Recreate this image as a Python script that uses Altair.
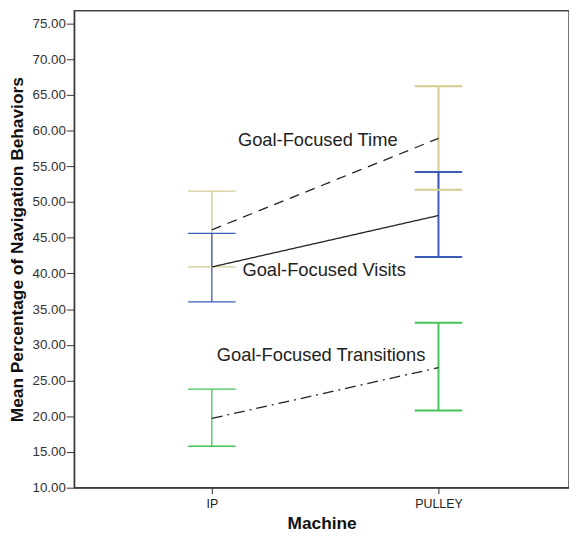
import altair as alt
import pandas as pd

machines = ["IP", "PULLEY"]
machine_pos = [0, 1]
series = ["Goal-Focused Time", "Goal-Focused Visits", "Goal-Focused Transitions"]
means = {
    "Goal-Focused Time": [46.1, 58.9],
    "Goal-Focused Visits": [40.9, 48.1],
    "Goal-Focused Transitions": [19.7, 26.8],
}
lows = {
    "Goal-Focused Time": [40.9, 51.7],
    "Goal-Focused Visits": [36.0, 42.3],
    "Goal-Focused Transitions": [15.8, 20.8],
}
highs = {
    "Goal-Focused Time": [51.5, 66.2],
    "Goal-Focused Visits": [45.6, 54.2],
    "Goal-Focused Transitions": [23.8, 33.1],
}
y_ticks = [10, 15, 20, 25, 30, 35, 40, 45, 50, 55, 60, 65, 70, 75]
label_x = [0.115, 0.135, 0.022]
label_y = [58.6, 40.4, 28.6]

rows = []
for s in series:
    for i, m in enumerate(machines):
        rows.append({"series": s, "machine": m, "x": machine_pos[i],
                     "mean": means[s][i], "lo": lows[s][i], "hi": highs[s][i]})
df = pd.DataFrame(rows)
labels = pd.DataFrame({"series": series, "x": label_x, "y": label_y})

FONT = "Liberation Sans"
col_domain = series
col_range = ["#D4CB8E", "#3D5CB8", "#45C354"]

xscale = alt.Scale(domain=[-0.607, 1.576], nice=False, zero=False)
yscale = alt.Scale(domain=[10, 76.76], nice=False, zero=False)

xaxis = alt.Axis(title="Machine", values=[0, 1],
                 labelExpr="datum.value == 0 ? 'IP' : 'PULLEY'",
                 grid=False, tickSize=6, tickColor="#333", domainColor="#333",
                 labelFont=FONT, labelFontSize=12.5, labelColor="#222", labelPadding=4,
                 titleFont=FONT, titleFontSize=17.5, titleFontWeight="bold",
                 titleColor="#111", titlePadding=5)
yaxis = alt.Axis(title="Mean Percentage of Navigation Behaviors",
                 values=y_ticks, format=".2f", labelOverlap=False, tickCount=14,
                 grid=False, tickSize=8, tickColor="#333", domainColor="#333",
                 labelFont=FONT, labelFontSize=13.5, labelColor="#333", labelPadding=1,
                 titleFont=FONT, titleFontSize=17.5, titleFontWeight="bold",
                 titleColor="#111", titlePadding=6)

X = alt.X("x:Q", scale=xscale, axis=xaxis)

color = alt.Color("series:N", scale=alt.Scale(domain=col_domain, range=col_range), legend=None)
sw = alt.condition("datum.machine == 'PULLEY'", alt.value(2), alt.value(1.3))

base = alt.Chart(df)

vbars = base.mark_rule().encode(
    x=X,
    y=alt.Y("lo:Q", scale=yscale, axis=yaxis),
    y2="hi:Q",
    color=color,
    strokeWidth=sw,
)
caps_lo = base.mark_rule(xOffset=-24, x2Offset=24).encode(
    x=X, x2="x:Q",
    y=alt.Y("lo:Q", scale=yscale, axis=yaxis), color=color, strokeWidth=sw)
caps_hi = base.mark_rule(xOffset=-24, x2Offset=24).encode(
    x=X, x2="x:Q",
    y=alt.Y("hi:Q", scale=yscale, axis=yaxis), color=color, strokeWidth=sw)

lines = base.mark_line(color="#222", strokeWidth=1.3).encode(
    x=X,
    y=alt.Y("mean:Q", scale=yscale, axis=yaxis),
    detail="series:N",
    strokeDash=alt.StrokeDash("series:N", scale=alt.Scale(
        domain=series, range=[[10, 7], [1, 0], [11, 5, 2, 5]]), legend=None),
)

text = alt.Chart(labels).mark_text(align="left", baseline="middle", font=FONT,
                                   fontSize=18.5, color="#222").encode(
    x=X,
    y=alt.Y("y:Q", scale=yscale, axis=yaxis),
    text="series:N",
)

chart = alt.layer(vbars, caps_lo, caps_hi, lines, text).properties(
    width=500, height=482,
    autosize=alt.AutoSizeParams(type="none"),
    padding={"left": 67, "top": 0, "right": 0, "bottom": 43},
).configure_view(stroke="#444", strokeWidth=1.5)

chart.save("out.html", embed_options={"renderer": "svg", "actions": False})
